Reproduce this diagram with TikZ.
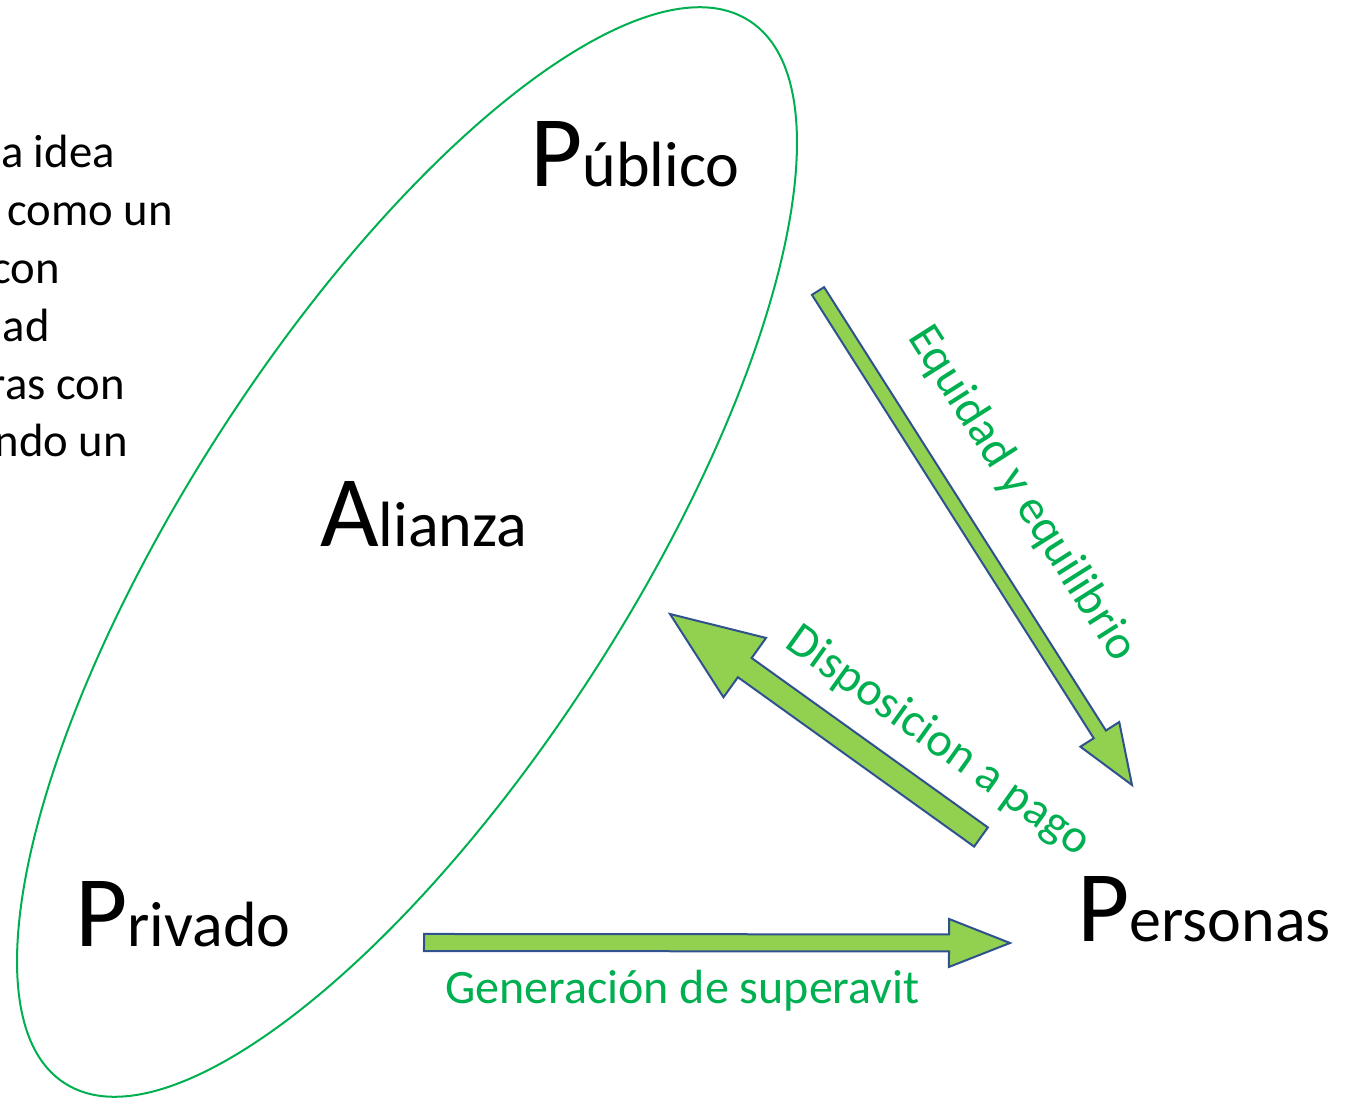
\documentclass[tikz,border=0pt]{standalone}
\usepackage{fontspec}
\setmainfont{Carlito}
\usetikzlibrary{calc}
\definecolor{lgreen}{HTML}{92D050}
\definecolor{dgreen}{HTML}{00B050}
\definecolor{oblue}{HTML}{2F528F}
\newcommand\BigLet[1]{{\fontsize{76}{80}\selectfont #1}}
\newcommand\SmallLet[1]{{\fontsize{48}{54}\selectfont #1}}
% block arrow: from, to, half shaft, half head, head length
\newcommand\blockarrow[5]{%
  \path ($(#2)!#5!(#1)$) coordinate (tmpC);
  \filldraw[arrowbody] ($(#1)!#3!90:(#2)$) -- ($(tmpC)!#3!90:(#2)$) -- ($(tmpC)!#4!90:(#2)$) -- (#2)
    -- ($(tmpC)!#4!-90:(#2)$) -- ($(tmpC)!#3!-90:(#2)$) -- ($(#1)!#3!-90:(#2)$) -- cycle;}
\tikzset{
  arrowbody/.style={fill=lgreen, draw=oblue, line width=1.5pt, line join=miter},
  ovalstyle/.style={draw=dgreen, line width=1.5pt},
  bigword/.style={inner sep=0pt, anchor=base west, text=black},
  sidetext/.style={inner sep=0pt, anchor=base east, text=black, font=\fontsize{35}{42}\selectfont},
  glabel/.style={inner sep=0pt, text=dgreen, font=\fontsize{36}{42}\selectfont}
}
\begin{document}
\begin{tikzpicture}[x=0.75pt,y=-0.75pt]
\useasboundingbox (0,0) rectangle (1347,1099);
\clip (0,0) rectangle (1347,1099);
% side text (clipped at left)
\node[sidetext] (t1) at (115,167) {a idea};
\node[sidetext] (t2) at (173,225) {como un};
\node[sidetext] (t3) at (60,283) {con};
\node[sidetext] (t4) at (50,341) {ad};
\node[sidetext] (t5) at (125,399) {ras con};
\node[sidetext] (t6) at (128,456) {ndo un};
% oval
\draw[ovalstyle, rotate around={57.2:(407,552)}] (407,552) ellipse [x radius=632, y radius=222];
% words
\node[bigword] (pub) at (530,186) {\BigLet{P}\SmallLet{úblico}};
\node[bigword] (ali) at (320,546) {\BigLet{A}\SmallLet{lianza}};
\node[bigword] (pri) at (75,946) {\BigLet{P}\SmallLet{rivado}};
\node[bigword] (per) at (1077,941) {\BigLet{P}\SmallLet{ersonas}};
% arrows
\coordinate (a1s) at (818,291);
\coordinate (a1e) at (1132,785);
\coordinate (a2s) at (981,837);
\coordinate (a2e) at (670,614);
\coordinate (a3s) at (424,942.5);
\coordinate (a3e) at (1010,943);
\blockarrow{a1s}{a1e}{5.4pt}{17.25pt}{45pt}
\blockarrow{a2s}{a2e}{8.85pt}{27.4pt}{69pt}
\blockarrow{a3s}{a3e}{6.4pt}{18pt}{45.75pt}
% labels
\node[glabel, anchor=base west] (gen) at (445,1003) {Generación de superavit};
\node[glabel, rotate=-57.6] (equ) at (1022,494) {Equidad y equilibrio};
\node[glabel, rotate=-35.6] (dis) at (938,742) {Disposicion a pago};
\end{tikzpicture}
\end{document}
